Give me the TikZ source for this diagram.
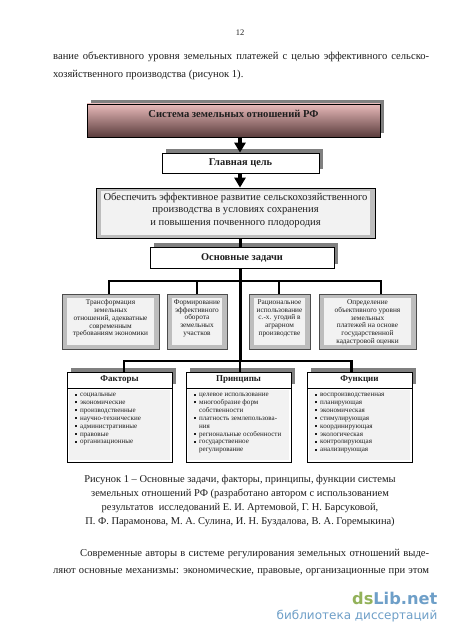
\documentclass[tikz,border=0pt]{standalone}
\usepackage{fontspec}
\setmainfont{Liberation Serif}
\newfontfamily\wmfont{DejaVu Sans}
\usetikzlibrary{arrows.meta,shadows}
\definecolor{shadowgray}{HTML}{808080}
\definecolor{bordergray}{HTML}{BDBDBD}
\definecolor{innerlight}{HTML}{F2F2F2}
\definecolor{pinktop}{HTML}{E8BABA}
\definecolor{pinkmid}{HTML}{BE9090}
\definecolor{pinkbot}{HTML}{5A3C3C}
\definecolor{inkdark}{HTML}{1E1E1E}
\definecolor{wmgreen}{HTML}{93B25A}
\definecolor{wmblue}{HTML}{6E9FC8}
\newcommand{\blt}{\llap{\rule[1.2pt]{2pt}{2pt}\hspace{3.2pt}}}
\tikzset{
 x=1pt,y=-1pt,
 shadowed/.style={copy shadow={shadow xshift=4pt,shadow yshift=4pt,fill=shadowgray,draw=none}},
 basebox/.style={draw=black,line width=0.7pt,inner sep=0pt,align=center,text=inkdark},
 titlebox/.style={basebox,shadowed,top color=pinktop,middle color=pinkmid,bottom color=pinkbot},
 titletext/.style={inner sep=0pt,text=inkdark,font=\fontsize{10.6}{12}\selectfont\bfseries},
 headbox/.style={basebox,shadowed,fill=white,font=\fontsize{10.4}{12}\selectfont\bfseries},
 goalouter/.style={basebox,fill=bordergray},
 goalinner/.style={inner sep=0pt,fill=innerlight},
 goaltext/.style={inner sep=0pt,align=center,text=inkdark,font=\fontsize{10.6}{12.6}\selectfont},
 taskouter/.style={basebox,fill=bordergray,draw=black!70},
 taskinner/.style={inner sep=0pt,fill=innerlight},
 tasktext/.style={inner sep=0pt,anchor=north,align=center,text=inkdark,font=\fontsize{7.3}{7.75}\selectfont},
 colhead/.style={basebox,shadowed,fill=white,font=\fontsize{9}{10}\selectfont\bfseries},
 colbody/.style={basebox,fill=white},
 colinner/.style={inner sep=0pt,fill=innerlight},
 listtext/.style={inner sep=0pt,align=left,anchor=north west,text=inkdark,font=\fontsize{7.05}{7.85}\selectfont},
 conn/.style={draw=black,line width=2.4pt},
 spineline/.style={draw=black,line width=3pt},
 arrowline/.style={draw=black,line width=3.4pt,-{Triangle[width=11pt,length=10pt]}},
 pagetext/.style={inner sep=0pt,text=inkdark,font=\fontsize{10.6}{14}\selectfont},
 caption/.style={inner sep=0pt,align=center,text=inkdark,font=\fontsize{10.45}{14}\selectfont},
}
\begin{document}
\begin{tikzpicture}
\useasboundingbox[fill=white] (0,0) rectangle (450,636);
% running text
\node[pagetext] (pageno) at (240,32.5) {\fontsize{8.5}{10}\selectfont 12};
\node[pagetext,anchor=west] (ptop1) at (53,56.5) {\makebox[376pt][s]{вание объективного уровня земельных платежей с целью эффективного сельско-}};
\node[pagetext,anchor=west] (ptop2) at (53,74.5) {хозяйственного производства (рисунок 1).};
% upper boxes
\node[titlebox,minimum width=293pt,minimum height=33pt] (title) at (233.5,120.5) {};
\node[titletext] (titlet) at (233.5,114) {Система земельных отношений РФ};
\node[headbox,minimum width=157pt,minimum height=20pt] (aim) at (240.5,163) {Главная цель};
\node[goalouter,minimum width=279pt,minimum height=50pt] (goal) at (235.5,213) {};
\node[goalinner,minimum width=269pt,minimum height=43pt] (goalin) at (goal.center) {};
\node[goaltext] (goalt) at (235.5,210.3) {Обеспечить эффективное развитие сельскохозяйственного\\производства в условиях сохранения\\и повышения почвенного плодородия};
\node[headbox,minimum width=184pt,minimum height=21pt] (tasks) at (242,257.5) {Основные задачи};
% task boxes
\node[taskouter,minimum width=97pt,minimum height=55pt] (t1) at (110.5,321.5) {};
\node[taskinner,minimum width=87pt,minimum height=47pt] (t1in) at (t1.center) {};
\node[tasktext] (t1t) at (110.5,299.5) {Трансформация\\земельных\\отношений, адекватные\\современным\\требованиям экономики};
\node[taskouter,minimum width=60pt,minimum height=55pt] (t2) at (197,321.5) {};
\node[taskinner,minimum width=50pt,minimum height=47pt] (t2in) at (t2.center) {};
\node[tasktext] (t2t) at (197,299.5) {Формирование\\эффективного\\оборота\\земельных\\участков};
\node[taskouter,minimum width=61pt,minimum height=55pt] (t3) at (279.5,321.5) {};
\node[taskinner,minimum width=51pt,minimum height=47pt] (t3in) at (t3.center) {};
\node[tasktext] (t3t) at (279.5,299.5) {Рациональное\\использование\\с.-х. угодий в\\аграрном\\производстве};
\node[taskouter,minimum width=97pt,minimum height=55pt] (t4) at (367.5,321.5) {};
\node[taskinner,minimum width=87pt,minimum height=47pt] (t4in) at (t4.center) {};
\node[tasktext] (t4t) at (367.5,299.5) {Определение\\объективного уровня\\земельных\\платежей на основе\\государственной\\кадастровой оценки};
% lower columns
\node[colbody,minimum width=105pt,minimum height=74pt] (b1) at (119.5,425) {};
\node[colinner,minimum width=101pt,minimum height=70pt] (b1in) at (b1.center) {};
\node[colhead,minimum width=105pt,minimum height=16pt] (h1) at (119.5,380) {Факторы};
\node[listtext] (l1) at (80,393.3) {\blt социальные\\\blt экономические\\\blt производственные\\\blt научно-технические\\\blt административные\\\blt правовые\\\blt организационные};
\node[colbody,minimum width=105pt,minimum height=74pt] (b2) at (238.5,425) {};
\node[colinner,minimum width=101pt,minimum height=70pt] (b2in) at (b2.center) {};
\node[colhead,minimum width=105pt,minimum height=16pt] (h2) at (238.5,380) {Принципы};
\node[listtext] (l2) at (199,393.3) {\blt целевое использование\\\blt многообразие форм\\собственности\\\blt платность землепользова-\\ния\\\blt региональные особенности\\\blt государственное\\регулирование};
\node[colbody,minimum width=105pt,minimum height=74pt] (b3) at (359.5,425) {};
\node[colinner,minimum width=101pt,minimum height=70pt] (b3in) at (b3.center) {};
\node[colhead,minimum width=105pt,minimum height=16pt] (h3) at (359.5,380) {Функции};
\node[listtext] (l3) at (320,393.3) {\blt воспроизводственная\\\blt планирующая\\\blt экономическая\\\blt стимулирующая\\\blt координирующая\\\blt экологическая\\\blt контролирующая\\\blt анализирующая};
% connector routing points
\coordinate (spine) at (240,361);
\coordinate (busa) at (109,281);
\coordinate (busb) at (197,281);
\coordinate (busc) at (279,281);
\coordinate (busd) at (381,281);
\coordinate (busl) at (124,361);
\coordinate (busr) at (351.5,361);
% connectors
\draw[arrowline] (title.south -| spine) -- (aim.north -| spine);
\draw[arrowline] (aim.south -| spine) -- (goal.north -| spine);
\draw[spineline] (goal.south -| spine) -- (tasks.north -| spine);
\draw[spineline] (tasks.south -| spine) -- (spine);
\draw[conn,line join=miter] (t1.north -| busa) -- (busa) -- (busd) -- (t4.north -| busd);
\draw[conn] (busb) -- (t2.north -| busb);
\draw[conn] (busc) -- (t3.north -| busc);
\draw[conn,line join=miter] (h1.north -| busl) -- (busl) -- (busr) -- (h3.north -| busr);
\draw[conn] (spine) -- (h2.north -| spine);
% caption
\node[caption] (cap) at (240,501) {Рисунок 1 – Основные задачи, факторы, принципы, функции системы\\земельных отношений РФ (разработано автором с использованием\\результатов\ \ исследований Е. И. Артемовой, Г. Н. Барсуковой,\\П. Ф. Парамонова, М. А. Сулина, И. Н. Буздалова, В. А. Горемыкина)};
\node[pagetext,anchor=west] (pb1) at (80,554.5) {\makebox[349pt][s]{Современные авторы в системе регулирования земельных отношений выде-}};
\node[pagetext,anchor=west] (pb2) at (53,572.5) {\makebox[376pt][s]{ляют основные механизмы: экономические, правовые, организационные при этом}};
% watermark
\node[inner sep=0pt,anchor=east,font=\wmfont\fontsize{16.2}{18}\selectfont\bfseries] (wm1) at (437.5,598) {\textcolor{wmgreen}{ds}\textcolor{wmblue}{Lib.net}};
\node[inner sep=0pt,anchor=east,text=wmblue,font=\wmfont\fontsize{12}{14}\selectfont] (wm2) at (437.5,616) {библиотека диссертаций};
\end{tikzpicture}
\end{document}
